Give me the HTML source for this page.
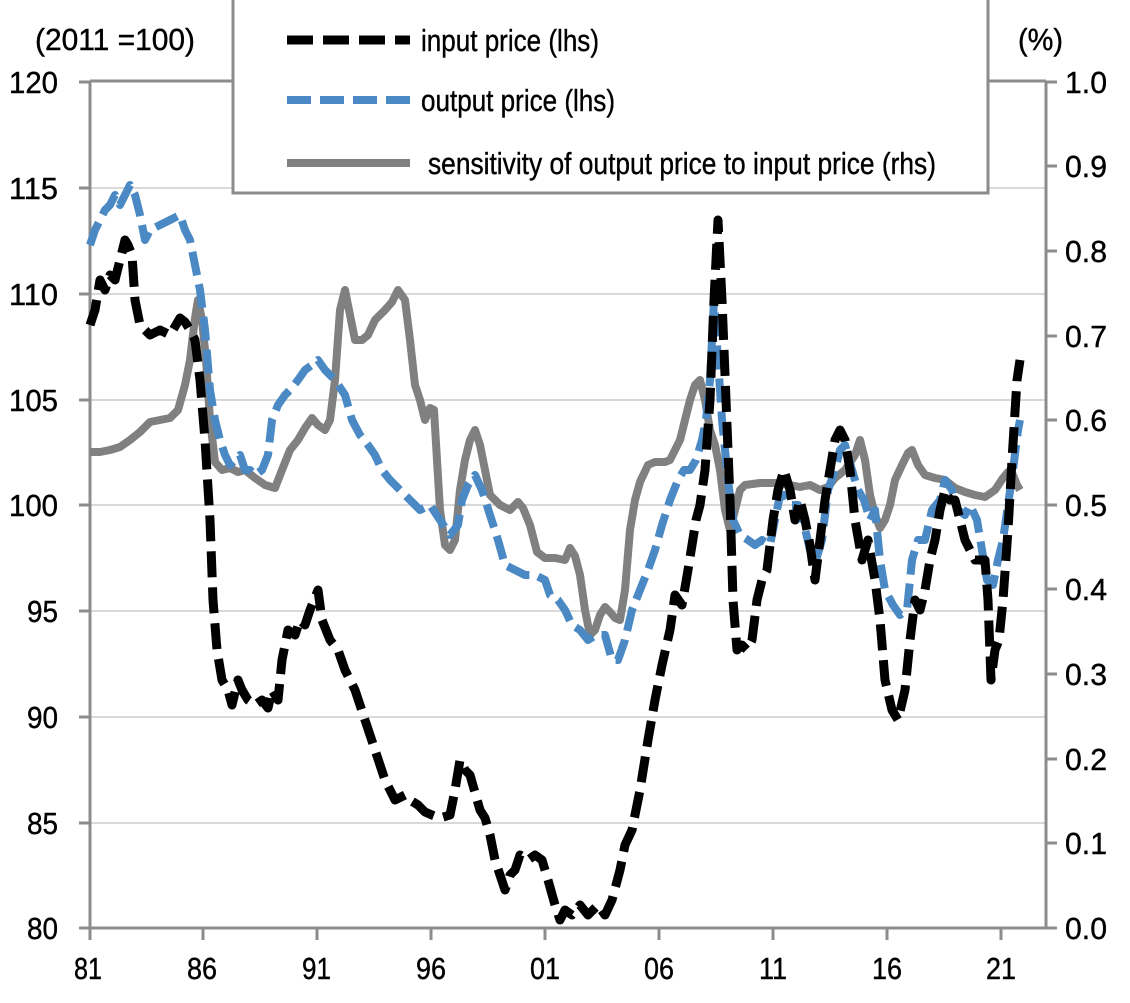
<!DOCTYPE html>
<html><head><meta charset="utf-8"><style>html,body{margin:0;padding:0;background:#fff}svg{display:block}</style></head>
<body>
<svg width="1130" height="1003" viewBox="0 0 1130 1003" xmlns="http://www.w3.org/2000/svg" font-family="Liberation Sans, Arial, sans-serif" font-size="31" fill="#000" stroke="#000" stroke-width="0.4">
<g stroke="#d9d9d9" stroke-width="2">
<line x1="90" y1="188" x2="1046" y2="188"/><line x1="90" y1="294" x2="1046" y2="294"/><line x1="90" y1="400" x2="1046" y2="400"/><line x1="90" y1="505" x2="1046" y2="505"/><line x1="90" y1="611" x2="1046" y2="611"/><line x1="90" y1="717" x2="1046" y2="717"/><line x1="90" y1="823" x2="1046" y2="823"/>
</g>
<g stroke="#8c8c8c" stroke-width="3">
<line x1="90" y1="81" x2="1046" y2="81"/>
<line x1="90" y1="81" x2="90" y2="940"/>
<line x1="1046" y1="81" x2="1046" y2="928"/>
<line x1="79" y1="928" x2="1048" y2="928"/>
<g>
<line x1="79" y1="82" x2="90" y2="82"/><line x1="79" y1="188" x2="90" y2="188"/><line x1="79" y1="294" x2="90" y2="294"/><line x1="79" y1="400" x2="90" y2="400"/><line x1="79" y1="505" x2="90" y2="505"/><line x1="79" y1="611" x2="90" y2="611"/><line x1="79" y1="717" x2="90" y2="717"/><line x1="79" y1="823" x2="90" y2="823"/>
<line x1="1046" y1="82" x2="1057" y2="82"/><line x1="1046" y1="166" x2="1057" y2="166"/><line x1="1046" y1="251" x2="1057" y2="251"/><line x1="1046" y1="336" x2="1057" y2="336"/><line x1="1046" y1="420" x2="1057" y2="420"/><line x1="1046" y1="505" x2="1057" y2="505"/><line x1="1046" y1="589" x2="1057" y2="589"/><line x1="1046" y1="674" x2="1057" y2="674"/><line x1="1046" y1="759" x2="1057" y2="759"/><line x1="1046" y1="843" x2="1057" y2="843"/><line x1="1046" y1="928" x2="1057" y2="928"/>
<line x1="203" y1="928" x2="203" y2="940"/><line x1="317" y1="928" x2="317" y2="940"/><line x1="431" y1="928" x2="431" y2="940"/><line x1="545" y1="928" x2="545" y2="940"/><line x1="659" y1="928" x2="659" y2="940"/><line x1="773" y1="928" x2="773" y2="940"/><line x1="887" y1="928" x2="887" y2="940"/><line x1="1001" y1="928" x2="1001" y2="940"/>
</g>
</g>
<g text-anchor="end" lengthAdjust="spacingAndGlyphs">
<text x="58" y="93" textLength="49" lengthAdjust="spacingAndGlyphs">120</text><text x="58" y="199" textLength="49" lengthAdjust="spacingAndGlyphs">115</text><text x="58" y="305" textLength="49" lengthAdjust="spacingAndGlyphs">110</text><text x="58" y="411" textLength="49" lengthAdjust="spacingAndGlyphs">105</text><text x="58" y="516" textLength="49" lengthAdjust="spacingAndGlyphs">100</text><text x="58" y="622" textLength="31" lengthAdjust="spacingAndGlyphs">95</text><text x="58" y="728" textLength="31" lengthAdjust="spacingAndGlyphs">90</text><text x="58" y="834" textLength="31" lengthAdjust="spacingAndGlyphs">85</text><text x="58" y="939" textLength="31" lengthAdjust="spacingAndGlyphs">80</text>
</g>
<g>
<text x="1065" y="93" textLength="42" lengthAdjust="spacingAndGlyphs">1.0</text><text x="1065" y="177" textLength="42" lengthAdjust="spacingAndGlyphs">0.9</text><text x="1065" y="262" textLength="42" lengthAdjust="spacingAndGlyphs">0.8</text><text x="1065" y="347" textLength="42" lengthAdjust="spacingAndGlyphs">0.7</text><text x="1065" y="431" textLength="42" lengthAdjust="spacingAndGlyphs">0.6</text><text x="1065" y="516" textLength="42" lengthAdjust="spacingAndGlyphs">0.5</text><text x="1065" y="600" textLength="42" lengthAdjust="spacingAndGlyphs">0.4</text><text x="1065" y="685" textLength="42" lengthAdjust="spacingAndGlyphs">0.3</text><text x="1065" y="770" textLength="42" lengthAdjust="spacingAndGlyphs">0.2</text><text x="1065" y="854" textLength="42" lengthAdjust="spacingAndGlyphs">0.1</text><text x="1065" y="939" textLength="42" lengthAdjust="spacingAndGlyphs">0.0</text>
</g>
<g>
<text x="74" y="979" textLength="28" lengthAdjust="spacingAndGlyphs">81</text><text x="187" y="979" textLength="30" lengthAdjust="spacingAndGlyphs">86</text><text x="302" y="979" textLength="29" lengthAdjust="spacingAndGlyphs">91</text><text x="416" y="979" textLength="30" lengthAdjust="spacingAndGlyphs">96</text><text x="530" y="979" textLength="30" lengthAdjust="spacingAndGlyphs">01</text><text x="644" y="979" textLength="30" lengthAdjust="spacingAndGlyphs">06</text><text x="759" y="979" textLength="28" lengthAdjust="spacingAndGlyphs">11</text><text x="872" y="979" textLength="30" lengthAdjust="spacingAndGlyphs">16</text><text x="986" y="979" textLength="30" lengthAdjust="spacingAndGlyphs">21</text>
</g>
<text x="35" y="50" textLength="160" lengthAdjust="spacingAndGlyphs">(2011 =100)</text>
<text x="1018" y="50" textLength="45" lengthAdjust="spacingAndGlyphs">(%)</text>
<g fill="none" stroke-linejoin="round">
<polyline stroke="#808080" stroke-width="8" points="90,452 100,452 110,450 120,447 130,440 140,432 150,422 160,420 170,418 178,410 185,385 190,360 195,318 198,300 202,320 206,360 210,420 215,462 222,470 230,468 238,472 245,470 255,478 265,485 275,488 282,470 290,450 298,440 305,428 312,418 318,425 325,430 330,420 335,380 340,310 345,290 350,315 355,340 362,340 368,335 375,320 385,310 392,302 398,290 405,300 410,340 415,385 420,400 425,420 430,408 434,410 440,510 445,545 450,550 455,540 460,490 465,460 470,440 475,430 480,445 485,470 490,495 500,505 510,510 518,502 523,508 530,525 537,552 545,558 555,558 565,560 570,548 575,556 580,575 585,610 590,635 595,630 600,615 605,607 610,612 615,618 620,620 625,590 630,530 635,500 640,482 648,465 655,462 665,462 670,460 675,450 680,440 685,420 690,400 695,385 700,380 705,400 710,430 715,445 720,470 725,510 730,530 735,510 740,490 745,485 760,483 775,483 790,485 800,487 810,485 820,490 828,487 835,478 845,470 855,455 860,440 865,460 870,495 875,515 880,528 885,520 890,505 895,480 902,465 908,453 912,450 918,465 925,475 935,478 945,480 955,488 965,492 975,495 985,497 995,490 1003,478 1008,472 1013,475 1017,485 1020,490"/>
<polyline stroke="#4a89c4" stroke-width="8" stroke-dasharray="24,9" points="90,245 95,230 100,220 105,210 110,205 115,195 120,205 125,195 130,185 135,195 140,215 145,240 150,230 160,225 170,220 180,215 185,230 190,240 195,265 200,290 205,330 210,390 215,420 220,440 225,455 230,465 235,460 240,455 245,470 250,470 255,475 262,470 268,455 272,420 278,405 285,395 290,390 298,380 305,370 312,365 318,360 325,370 335,380 345,395 352,420 360,435 368,445 375,455 382,470 390,480 400,490 410,500 420,510 430,505 440,520 450,535 458,525 462,500 468,485 475,475 482,490 490,515 498,540 505,565 515,570 525,575 535,575 545,580 550,595 558,600 565,610 572,625 580,630 588,640 596,635 605,635 612,660 618,660 625,640 632,610 640,590 648,570 655,550 662,525 670,500 678,480 684,470 690,470 696,460 702,440 706,420 710,380 714,300 718,360 722,420 728,480 733,520 740,535 748,540 755,545 762,540 770,545 775,520 780,495 785,495 790,505 798,505 803,520 810,550 816,560 822,540 828,490 835,470 840,450 845,445 852,470 858,490 864,500 870,520 875,510 880,560 885,590 893,605 900,615 907,610 912,560 918,540 925,540 932,510 940,500 945,480 952,490 958,510 965,515 970,505 977,520 982,550 987,580 993,585 998,560 1003,540 1008,505 1013,470 1018,430 1020,420"/>
<polyline stroke="#000" stroke-width="9" stroke-dasharray="26,10" points="90,325 95,310 100,280 105,290 110,275 115,280 120,260 125,240 128,245 132,255 135,300 140,325 150,335 160,330 170,335 180,318 185,322 190,330 195,340 200,380 205,440 210,520 213,600 217,650 222,680 228,690 232,705 238,680 242,690 248,700 255,705 262,700 268,708 272,690 278,700 282,660 288,630 295,635 300,620 305,625 310,610 318,590 322,620 330,640 338,650 345,670 355,690 365,720 375,750 385,780 395,800 405,795 410,800 418,805 425,812 432,815 440,818 450,815 455,790 460,760 465,770 470,775 480,810 485,818 490,835 495,860 505,890 510,875 515,870 520,855 528,860 535,855 542,860 548,880 555,905 560,920 565,910 572,915 580,905 588,915 598,905 605,915 612,900 620,870 625,845 632,830 640,790 648,740 655,700 662,665 670,630 675,595 682,605 688,570 692,545 696,520 700,505 705,470 710,400 714,300 718,220 722,300 726,400 730,500 733,600 737,650 742,645 747,650 752,640 757,600 762,580 767,570 773,520 778,490 784,470 790,490 795,520 800,500 805,520 810,545 815,580 820,540 825,500 830,470 835,440 840,430 845,440 850,470 855,520 862,560 868,540 875,580 880,620 885,680 892,710 898,720 905,690 910,640 915,600 920,610 925,590 930,560 935,540 940,510 945,490 950,500 955,500 960,520 965,540 970,550 975,560 980,560 985,560 988,600 991,680 995,650 999,640 1003,600 1008,530 1012,460 1017,380 1020,360"/>
</g>
<rect x="233" y="-2" width="755" height="195" fill="#fff" stroke="#8c8c8c" stroke-width="3"/>
<line x1="287" y1="40" x2="410" y2="40" stroke="#000" stroke-width="9" stroke-dasharray="26,10"/>
<line x1="287" y1="100" x2="410" y2="100" stroke="#4a89c4" stroke-width="8" stroke-dasharray="24,9"/>
<line x1="287" y1="163" x2="410" y2="163" stroke="#808080" stroke-width="8"/>
<text x="421" y="51" textLength="178" lengthAdjust="spacingAndGlyphs">input price (lhs)</text>
<text x="421" y="111" textLength="194" lengthAdjust="spacingAndGlyphs">output price (lhs)</text>
<text x="428" y="174" textLength="508" lengthAdjust="spacingAndGlyphs">sensitivity of output price to input price (rhs)</text>
</svg>
</body></html>
